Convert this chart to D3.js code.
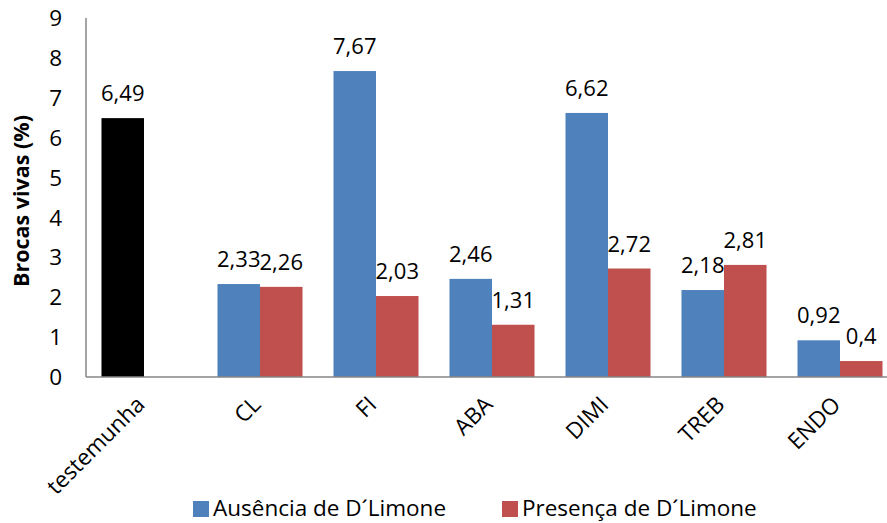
<!DOCTYPE html>
<html>
<head>
<meta charset="utf-8">
<script src="https://cdn.jsdelivr.net/npm/d3@7"></script>
<style>
    body { margin: 0; background: #fff; }
    svg { display: block; font-family: "Open Sans", sans-serif; }
    .tick-label { font-size: 22.5px; fill: #000; }
    .value-label { font-size: 22px; fill: #000; text-anchor: middle; }
    .cat-label { font-size: 22.5px; fill: #000; }
    .legend-label { font-size: 22.5px; fill: #000; }
    .axis-title { font-size: 21.5px; font-weight: bold; fill: #000; }
</style>
</head>
<body>
<svg id="chart"></svg>
<script>
// Chart data
const categories = ['testemunha', 'CL', 'FI', 'ABA', 'DIMI', 'TREB', 'ENDO'];
const ausencia = [6.49, 2.33, 7.67, 2.46, 6.62, 2.18, 0.92];
const presenca = [null, 2.26, 2.03, 1.31, 2.72, 2.81, 0.4];
const seriesNames = ['Ausência de D´Limone', 'Presença de D´Limone'];
const yTicks = [0, 1, 2, 3, 4, 5, 6, 7, 8, 9];

class BarChart {
    constructor() {
        this.width = 887;
        this.height = 523;
        this.colors = ['#4F81BD', '#C0504D'];
        this.draw();
    }

    fmt(v) {
        return String(v).replace('.', ',');
    }

    draw() {
        const svg = d3.select('#chart')
            .attr('width', this.width)
            .attr('height', this.height);

        const left = 86, top = 18, bottom = 377;
        const band = 116;

        const x = d3.scaleBand()
            .domain(categories)
            .range([left, left + band * categories.length])
            .paddingInner(0.267)
            .paddingOuter(0.1335);
        const x1 = d3.scaleBand()
            .domain([0, 1])
            .range([0, x.bandwidth()]);
        const y = d3.scaleLinear().domain([0, 9]).range([bottom, top]);

        // y tick labels (no tick marks)
        svg.append('g').selectAll('text')
            .data(yTicks)
            .enter()
            .append('text')
            .attr('class', 'tick-label')
            .attr('x', 62)
            .attr('y', d => y(d))
            .attr('dy', '0.36em')
            .attr('text-anchor', 'end')
            .text(d => d);

        // bars
        const rows = categories.map((c, i) => ({ cat: c, vals: [ausencia[i], presenca[i]] }));
        const groups = svg.append('g').selectAll('g')
            .data(rows)
            .enter()
            .append('g')
            .attr('transform', d => `translate(${x(d.cat)},0)`);

        groups.selectAll('rect')
            .data(d => d.vals.map((v, s) => ({ v, s, cat: d.cat })).filter(d => d.v !== null))
            .enter()
            .append('rect')
            .attr('x', d => x1(d.s))
            .attr('y', d => y(d.v))
            .attr('width', x1.bandwidth())
            .attr('height', d => y(0) - y(d.v))
            .attr('fill', d => d.cat === 'testemunha' ? '#000' : this.colors[d.s]);

        groups.selectAll('text')
            .data(d => d.vals.map((v, s) => ({ v, s })).filter(d => d.v !== null))
            .enter()
            .append('text')
            .attr('class', 'value-label')
            .attr('x', d => x1(d.s) + x1.bandwidth() / 2)
            .attr('y', d => y(d.v) - 17)
            .text(d => this.fmt(d.v));

        // axes lines
        svg.append('line')
            .attr('x1', left).attr('x2', left)
            .attr('y1', top).attr('y2', bottom)
            .attr('stroke', '#868686').attr('stroke-width', 1.5);
        svg.append('line')
            .attr('x1', left).attr('x2', this.width)
            .attr('y1', bottom).attr('y2', bottom)
            .attr('stroke', '#868686').attr('stroke-width', 1.5);

        // category labels, rotated
        svg.append('g').selectAll('text')
            .data(categories)
            .enter()
            .append('text')
            .attr('class', 'cat-label')
            .attr('text-anchor', 'end')
            .attr('transform', d => `translate(${x(d) + x.bandwidth() / 2 + 2},${bottom + 29}) rotate(-45)`)
            .text(d => d);

        // y axis title
        svg.append('text')
            .attr('class', 'axis-title')
            .attr('text-anchor', 'middle')
            .attr('transform', 'translate(29,201) rotate(-90)')
            .text('Brocas vivas (%)');

        // legend
        const legendX = [193, 502];
        const legend = svg.append('g').selectAll('g')
            .data(seriesNames)
            .enter()
            .append('g')
            .attr('transform', (d, i) => `translate(${legendX[i]},501)`);
        legend.append('rect')
            .attr('width', 16).attr('height', 16)
            .attr('fill', (d, i) => this.colors[i]);
        legend.append('text')
            .attr('class', 'legend-label')
            .attr('x', 20)
            .attr('y', 15)
            .text(d => d);
    }
}

document.addEventListener('DOMContentLoaded', () => {
    new BarChart();
});
</script>
</body>
</html>
